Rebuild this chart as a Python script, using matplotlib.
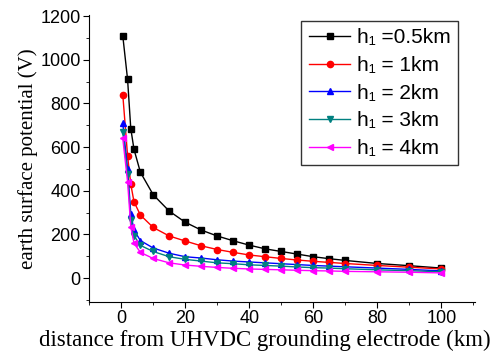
import numpy as np
import matplotlib
matplotlib.use('Agg')
import matplotlib.pyplot as plt
from matplotlib.ticker import MultipleLocator

# distances (km) and surface potential (V)
distance = [0.5, 2, 3, 4, 6, 10, 15, 20, 25, 30, 35, 40, 45, 50, 55, 60, 65, 70, 80, 90, 100]
v_h05 = [1110, 910, 685, 590, 485, 382, 307, 256, 220, 193, 171, 151, 134, 122, 110, 98, 89, 81, 67, 57, 46]
v_h1 = [841, 560, 430, 350, 289, 232, 193, 170, 148, 131, 118, 106, 98, 90, 83, 77, 72, 67, 58, 50, 42]
v_h2 = [709, 502, 296, 220, 172, 138, 114, 98, 92, 84, 78, 74, 70, 66, 62, 58, 55, 52, 46, 40, 33]
v_h3 = [670, 478, 266, 195, 150, 122, 98, 86, 78, 70, 66, 61, 58, 55, 51, 48, 46, 43, 38, 34, 29]
v_h4 = [640, 441, 235, 160, 118, 90, 70, 60, 54, 49, 45, 42, 40, 38, 36, 34, 33, 31, 29, 27, 24]

labels = ['h\u2081 =0.5km', 'h\u2081 = 1km', 'h\u2081 = 2km', 'h\u2081 = 3km', 'h\u2081 = 4km']
series = [v_h05, v_h1, v_h2, v_h3, v_h4]
colors = ['black', 'red', 'blue', '#008080', 'magenta']
markers = ['s', 'o', '^', 'v', '<']

plt.rcParams['font.family'] = ['Liberation Sans', 'DejaVu Sans']

fig = plt.figure(figsize=(4.98, 3.58), dpi=100)
ax = fig.add_axes([0.179, 0.156, 0.775, 0.802])

for vals, lab, c, m in zip(series, labels, colors, markers):
    ax.plot(distance, vals, color=c, marker=m, markersize=4.5, lw=1, label=lab)

ax.set_xlim(-10, 110.5)
ax.set_ylim(-110, 1205)
ax.xaxis.set_major_locator(MultipleLocator(20))
ax.xaxis.set_minor_locator(MultipleLocator(10))
ax.yaxis.set_major_locator(MultipleLocator(200))
ax.yaxis.set_minor_locator(MultipleLocator(100))
ax.spines['top'].set_visible(False)
ax.spines['right'].set_visible(False)
ax.tick_params(which='major', length=4, labelsize=13, pad=2)
ax.tick_params(which='minor', length=2.5)

ax.set_xlabel('distance from UHVDC grounding electrode (km)',
              family='Liberation Serif', fontsize=16.5)
ax.xaxis.set_label_coords(0.455, -0.095)
ax.set_ylabel('earth surface potential (V)',
              family='Liberation Serif', fontsize=15, labelpad=2)

leg = ax.legend(loc='upper right', bbox_to_anchor=(0.955, 0.98), fontsize=15,
                frameon=True, fancybox=False, edgecolor='black',
                labelspacing=0.42, handlelength=2.0, handletextpad=0.3,
                borderpad=0.35, borderaxespad=0)
leg.get_frame().set_linewidth(1)

fig.savefig('out.png', dpi=100)
